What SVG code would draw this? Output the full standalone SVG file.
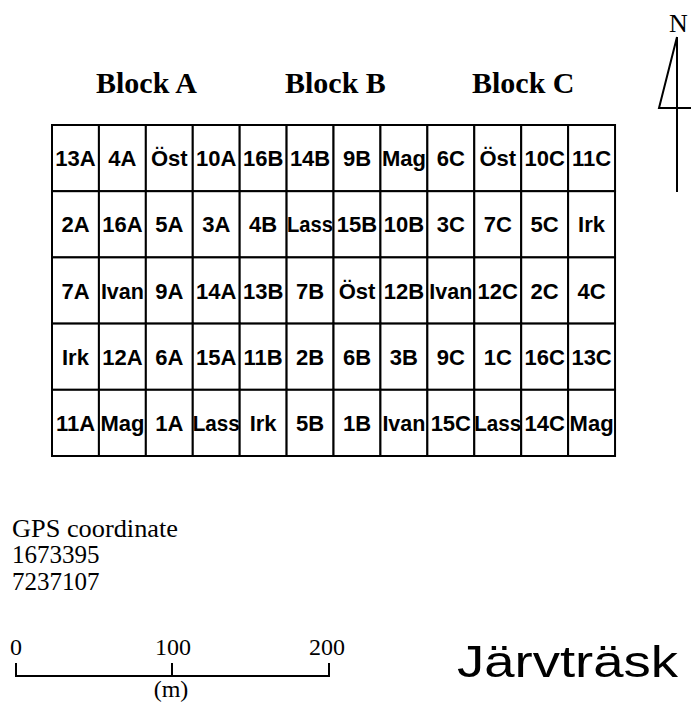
<svg xmlns="http://www.w3.org/2000/svg" width="691" height="721" viewBox="0 0 691 721">
<style>
.cell rect{fill:#fff;stroke:#000;stroke-width:2}
.cell text{font-family:"Liberation Sans",Arial,sans-serif;font-weight:bold;font-size:22px;text-anchor:middle;fill:#000}
.blk{font-family:"Liberation Serif","Times New Roman",serif;font-weight:bold;font-size:30px;fill:#000}
.tm{font-family:"Liberation Serif","Times New Roman",serif;font-size:24px;fill:#000}
.ln{stroke:#000;stroke-width:2;fill:none}
</style>
<rect width="691" height="721" fill="#fff"/>
<g id="labels">
<text class="blk" x="96" y="93">Block A</text>
<text class="blk" x="285" y="93">Block B</text>
<text class="blk" x="472" y="93">Block C</text>
</g>
<g id="north">
<text class="tm" x="669" y="32" style="font-size:26px">N</text>
<path class="ln" d="M677 37V192M677 37L659 108H691" stroke-width="1.6"/>
</g>
<g id="grid">
<g class="cell" id="r1">
<rect x="52" y="125" width="46.92" height="66.2"/><text x="75.46" y="166">13A</text>
<rect x="98.92" y="125" width="46.92" height="66.2"/><text x="122.38" y="166">4A</text>
<rect x="145.84" y="125" width="46.92" height="66.2"/><text x="169.3" y="166">Öst</text>
<rect x="192.76" y="125" width="46.92" height="66.2"/><text x="216.22" y="166">10A</text>
<rect x="239.68" y="125" width="46.92" height="66.2"/><text x="263.14" y="166">16B</text>
<rect x="286.6" y="125" width="46.92" height="66.2"/><text x="310.06" y="166">14B</text>
<rect x="333.52" y="125" width="46.92" height="66.2"/><text x="356.98" y="166">9B</text>
<rect x="380.44" y="125" width="46.92" height="66.2"/><text x="403.9" y="166">Mag</text>
<rect x="427.36" y="125" width="46.92" height="66.2"/><text x="450.82" y="166">6C</text>
<rect x="474.28" y="125" width="46.92" height="66.2"/><text x="497.74" y="166">Öst</text>
<rect x="521.2" y="125" width="46.92" height="66.2"/><text x="544.66" y="166">10C</text>
<rect x="568.12" y="125" width="46.92" height="66.2"/><text x="591.58" y="166">11C</text>
</g>
<g class="cell" id="r2">
<rect x="52" y="191.2" width="46.92" height="66.2"/><text x="75.46" y="232">2A</text>
<rect x="98.92" y="191.2" width="46.92" height="66.2"/><text x="122.38" y="232">16A</text>
<rect x="145.84" y="191.2" width="46.92" height="66.2"/><text x="169.3" y="232">5A</text>
<rect x="192.76" y="191.2" width="46.92" height="66.2"/><text x="216.22" y="232">3A</text>
<rect x="239.68" y="191.2" width="46.92" height="66.2"/><text x="263.14" y="232">4B</text>
<rect x="286.6" y="191.2" width="46.92" height="66.2"/><text x="310.06" y="232" textLength="46" lengthAdjust="spacingAndGlyphs">Lass</text>
<rect x="333.52" y="191.2" width="46.92" height="66.2"/><text x="356.98" y="232">15B</text>
<rect x="380.44" y="191.2" width="46.92" height="66.2"/><text x="403.9" y="232">10B</text>
<rect x="427.36" y="191.2" width="46.92" height="66.2"/><text x="450.82" y="232">3C</text>
<rect x="474.28" y="191.2" width="46.92" height="66.2"/><text x="497.74" y="232">7C</text>
<rect x="521.2" y="191.2" width="46.92" height="66.2"/><text x="544.66" y="232">5C</text>
<rect x="568.12" y="191.2" width="46.92" height="66.2"/><text x="591.58" y="232">Irk</text>
</g>
<g class="cell" id="r3">
<rect x="52" y="257.4" width="46.92" height="66.2"/><text x="75.46" y="298.5">7A</text>
<rect x="98.92" y="257.4" width="46.92" height="66.2"/><text x="122.38" y="298.5" textLength="43" lengthAdjust="spacingAndGlyphs">Ivan</text>
<rect x="145.84" y="257.4" width="46.92" height="66.2"/><text x="169.3" y="298.5">9A</text>
<rect x="192.76" y="257.4" width="46.92" height="66.2"/><text x="216.22" y="298.5">14A</text>
<rect x="239.68" y="257.4" width="46.92" height="66.2"/><text x="263.14" y="298.5">13B</text>
<rect x="286.6" y="257.4" width="46.92" height="66.2"/><text x="310.06" y="298.5">7B</text>
<rect x="333.52" y="257.4" width="46.92" height="66.2"/><text x="356.98" y="298.5">Öst</text>
<rect x="380.44" y="257.4" width="46.92" height="66.2"/><text x="403.9" y="298.5">12B</text>
<rect x="427.36" y="257.4" width="46.92" height="66.2"/><text x="450.82" y="298.5" textLength="43" lengthAdjust="spacingAndGlyphs">Ivan</text>
<rect x="474.28" y="257.4" width="46.92" height="66.2"/><text x="497.74" y="298.5">12C</text>
<rect x="521.2" y="257.4" width="46.92" height="66.2"/><text x="544.66" y="298.5">2C</text>
<rect x="568.12" y="257.4" width="46.92" height="66.2"/><text x="591.58" y="298.5">4C</text>
</g>
<g class="cell" id="r4">
<rect x="52" y="323.6" width="46.92" height="66.2"/><text x="75.46" y="364.5">Irk</text>
<rect x="98.92" y="323.6" width="46.92" height="66.2"/><text x="122.38" y="364.5">12A</text>
<rect x="145.84" y="323.6" width="46.92" height="66.2"/><text x="169.3" y="364.5">6A</text>
<rect x="192.76" y="323.6" width="46.92" height="66.2"/><text x="216.22" y="364.5">15A</text>
<rect x="239.68" y="323.6" width="46.92" height="66.2"/><text x="263.14" y="364.5">11B</text>
<rect x="286.6" y="323.6" width="46.92" height="66.2"/><text x="310.06" y="364.5">2B</text>
<rect x="333.52" y="323.6" width="46.92" height="66.2"/><text x="356.98" y="364.5">6B</text>
<rect x="380.44" y="323.6" width="46.92" height="66.2"/><text x="403.9" y="364.5">3B</text>
<rect x="427.36" y="323.6" width="46.92" height="66.2"/><text x="450.82" y="364.5">9C</text>
<rect x="474.28" y="323.6" width="46.92" height="66.2"/><text x="497.74" y="364.5">1C</text>
<rect x="521.2" y="323.6" width="46.92" height="66.2"/><text x="544.66" y="364.5">16C</text>
<rect x="568.12" y="323.6" width="46.92" height="66.2"/><text x="591.58" y="364.5">13C</text>
</g>
<g class="cell" id="r5">
<rect x="52" y="389.8" width="46.92" height="66.2"/><text x="75.46" y="431">11A</text>
<rect x="98.92" y="389.8" width="46.92" height="66.2"/><text x="122.38" y="431" textLength="44" lengthAdjust="spacingAndGlyphs">Mag</text>
<rect x="145.84" y="389.8" width="46.92" height="66.2"/><text x="169.3" y="431">1A</text>
<rect x="192.76" y="389.8" width="46.92" height="66.2"/><text x="216.22" y="431" textLength="47" lengthAdjust="spacingAndGlyphs">Lass</text>
<rect x="239.68" y="389.8" width="46.92" height="66.2"/><text x="263.14" y="431">Irk</text>
<rect x="286.6" y="389.8" width="46.92" height="66.2"/><text x="310.06" y="431">5B</text>
<rect x="333.52" y="389.8" width="46.92" height="66.2"/><text x="356.98" y="431">1B</text>
<rect x="380.44" y="389.8" width="46.92" height="66.2"/><text x="403.9" y="431" textLength="43" lengthAdjust="spacingAndGlyphs">Ivan</text>
<rect x="427.36" y="389.8" width="46.92" height="66.2"/><text x="450.82" y="431">15C</text>
<rect x="474.28" y="389.8" width="46.92" height="66.2"/><text x="497.74" y="431" textLength="47" lengthAdjust="spacingAndGlyphs">Lass</text>
<rect x="521.2" y="389.8" width="46.92" height="66.2"/><text x="544.66" y="431">14C</text>
<rect x="568.12" y="389.8" width="46.92" height="66.2"/><text x="591.58" y="431" textLength="44" lengthAdjust="spacingAndGlyphs">Mag</text>
</g>
</g>
<g id="gps">
<text class="tm" x="12" y="537" style="font-size:25px" textLength="166" lengthAdjust="spacingAndGlyphs">GPS coordinate</text>
<text class="tm" x="12" y="563" style="font-size:25px">1673395</text>
<text class="tm" x="12" y="590" style="font-size:25px">7237107</text>
</g>
<g id="scale">
<path class="ln" d="M16 663V676H329V663M172 663V676" stroke-width="1.6"/>
<text class="tm" x="16" y="655" text-anchor="middle">0</text>
<text class="tm" x="173" y="655" text-anchor="middle">100</text>
<text class="tm" x="327" y="655" text-anchor="middle">200</text>
<text class="tm" x="171" y="697" text-anchor="middle">(m)</text>
</g>
<g id="title">
<text x="457" y="677" textLength="221" lengthAdjust="spacingAndGlyphs" style="font-family:'Liberation Sans',Arial,sans-serif;font-size:45px;fill:#000">Järvträsk</text>
</g>
</svg>
